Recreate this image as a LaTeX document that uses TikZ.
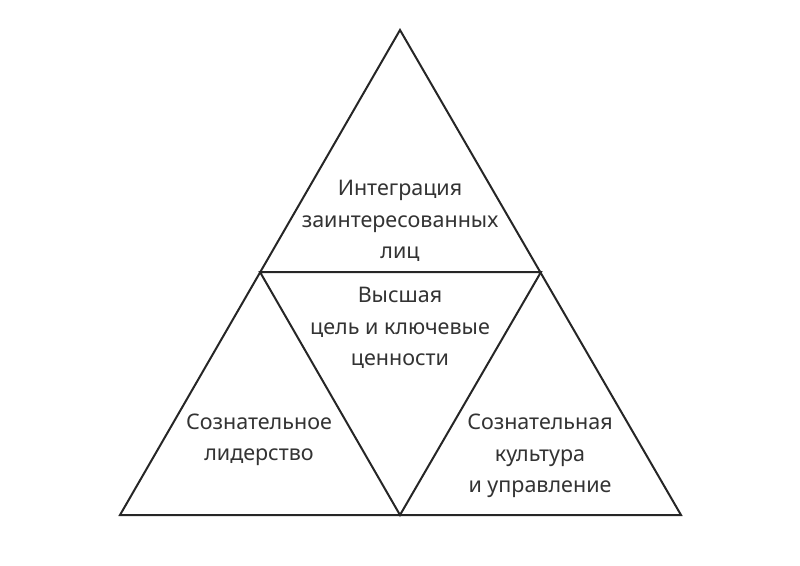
\documentclass[tikz,border=0pt]{standalone}
\usepackage{fontspec}
\setmainfont{Noto Sans}
\begin{document}
\begin{tikzpicture}[x=1pt,y=-1pt,
  edge/.style={draw=black!85,line width=2pt,line join=miter},
  lbl/.style={align=center,font=\fontsize{21.5}{31.5}\selectfont,text=black!80,inner sep=0pt}]
\useasboundingbox (0,0) rectangle (800,565);
\coordinate (A) at (400,30);
\coordinate (L) at (120,515);
\coordinate (R) at (681,515);
\coordinate (ML) at (260,272);
\coordinate (MR) at (541,272);
\coordinate (MB) at (400,515);
\draw[edge] (A) -- (R) -- (L) -- cycle;
\draw[edge] (ML) -- (MR) -- (MB) -- cycle;
\node[lbl] (top) at (400,221) {Интеграция\\заинтересованных\\лиц};
\node[lbl] (mid) at (400,328) {Высшая\\цель и ключевые\\ценности};
\node[lbl] (left) at (259,440) {Сознательное\\лидерство};
\node[lbl] (right) at (540,456) {Сознательная\\культура\\и управление};
\end{tikzpicture}
\end{document}
